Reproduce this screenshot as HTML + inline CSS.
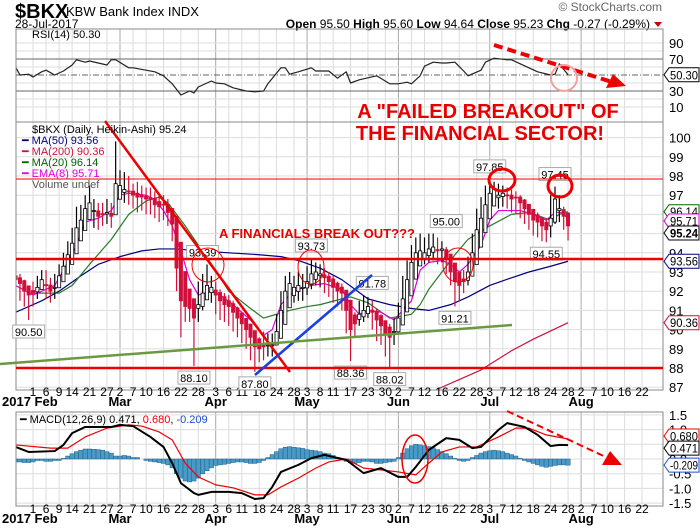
<!DOCTYPE html>
<html><head><meta charset="utf-8"><title>$BKX KBW Bank Index chart</title>
<style>
body{margin:0;background:#fff;width:700px;height:530px;overflow:hidden}
svg{display:block;font-family:"Liberation Sans",sans-serif}
.ax{font-size:11px;fill:#222}
.lg{font-size:11px}
.bx{fill:#fff;stroke:#aaa}
</style></head><body>
<svg id="chart" width="700" height="530" viewBox="0 0 700 530" xmlns="http://www.w3.org/2000/svg">
<defs>
<clipPath id="cpMain"><rect x="16" y="122" width="647" height="268"/></clipPath>
<clipPath id="cpRsi"><rect x="16" y="29" width="647" height="93"/></clipPath>
<clipPath id="cpMacd"><rect x="16" y="412" width="647" height="94"/></clipPath>
</defs>
<text x="15" y="18" font-size="20" font-weight="bold">$BKX</text>
<text x="66" y="16" font-size="13">KBW Bank Index  INDX</text>
<text x="15" y="28" font-size="12">28-Jul-2017</text>
<text x="662" y="11" font-size="12" fill="#666" text-anchor="end">© StockCharts.com</text>
<text x="650" y="28" font-size="12" text-anchor="end"><tspan font-weight="bold">Open</tspan> 95.50 <tspan font-weight="bold">High</tspan> 95.60 <tspan font-weight="bold">Low</tspan> 94.64 <tspan font-weight="bold">Close</tspan> 95.23 <tspan font-weight="bold">Chg</tspan> -0.27 (-0.29%)</text>
<polygon points="654,22 662,22 658,27" fill="#c00"/>
<g id="grid"></g>
<g id="rsiG" clip-path="url(#cpRsi)"></g>
<g id="mainG" clip-path="url(#cpMain)"></g>
<g id="macdG" clip-path="url(#cpMacd)"></g>
<g id="panels" fill="none" stroke="#888">
<rect x="16" y="29" width="647" height="93"/>
<rect x="16" y="122" width="647" height="268"/>
<rect x="16" y="412" width="647" height="94"/>
</g>
<g id="axes"></g>
<g id="annot"></g>
<text x="32" y="38" class="lg">RSI(14) 50.30</text>
<g class="lg">
<text x="32" y="133" fill="#000">$BKX (Daily, Heikin-Ashi) 95.24</text>
<text x="22" y="144" fill="#000080">━ MA(50) 93.56</text>
<text x="22" y="155" fill="#d0103a">━ MA(200) 90.36</text>
<text x="22" y="166" fill="#006400">━ MA(20) 96.14</text>
<text x="22" y="177" fill="#e000e0">━ EMA(8) 95.71</text>
<text x="32" y="188" fill="#555">Volume undef</text>
</g>
<text x="20" y="423" class="lg"><tspan>━ MACD(12,26,9) 0.471, </tspan><tspan fill="#e00">0.680</tspan><tspan>, </tspan><tspan fill="#1a4ed8">-0.209</tspan></text>
<text x="488" y="118" font-size="20" font-weight="bold" fill="#e60000" text-anchor="middle">A "FAILED BREAKOUT" OF</text>
<text x="480" y="140" font-size="20" font-weight="bold" fill="#e60000" text-anchor="middle">THE FINANCIAL SECTOR!</text>
<text x="219" y="238" font-size="13" font-weight="bold" fill="#e60000">A FINANCIALS BREAK OUT???</text>
</svg>
<script>
const NS='http://www.w3.org/2000/svg';
// ---- data ----
const startIdx=-4;
const haClose=[92.6,92.4,92.0,91.8, 91.9,92.2,92.6, 92.3,92.0,92.2,92.8,93.3, 93.9,94.5,95.3,95.7,96.3, 96.6,96.2,95.9,96.0, 96.1,95.9, 97.6,97.5,97.3, 97.2,97.0,96.9,96.9,96.8, 96.8,96.5,96.4,96.5,96.1, 95.5,93.2,91.5,91.2,91.1, 90.6,91.3,91.9,92.3,92.2, 91.8,91.5,91.3,91.2,90.9, 90.6,90.3,90.0,89.6, 89.1,89.0,89.1,89.2,89.2, 89.9,91.0,92.0,92.4,92.2, 92.3,92.2,92.5,92.9,93.0, 92.9,92.7,92.5,92.2,92.0, 91.9,91.0,90.0,90.3,90.8, 91.0,91.2,90.9,90.5,90.2, 89.8,89.6,89.9,90.6, 91.6,92.6,93.5,94.0,94.1, 94.0,94.2,94.3,94.1,94.2, 93.7,93.0,92.5,92.3,92.5, 93.0,94.0,95.2,95.8,96.5, 97.1,97.3,97.0,97.1, 97.0,96.8,96.9,96.6,96.3, 96.0,95.7,95.6,95.4,95.2, 95.8,96.8,96.3,95.9,95.4];
const haHigh=[93.0,92.9,92.6,92.3, 92.5,92.8,93.1, 93.1,92.7,92.9,93.4,94.0, 94.6,95.3,96.4,96.5,97.0, 97.5,96.8,96.6,96.6, 96.8,96.6, 99.8,98.3,98.2, 98.0,97.6,97.7,97.5,97.4, 97.4,97.2,97.0,97.0,96.8, 96.2,95.6,92.5,91.8,91.8, 91.5,92.5,92.9,93.39,92.8, 92.5,92.1,91.9,91.8,91.5, 91.2,90.9,90.6,90.3, 89.6,89.6,89.9,89.8,89.8, 90.8,92.0,92.8,93.0,92.8, 93.0,92.9,93.3,93.73,93.5, 93.4,93.2,93.0,92.8,92.5, 92.4,91.8,90.8,90.9,91.5, 91.78,91.7,91.5,91.1,90.8, 90.4,90.3,90.6,91.4, 92.8,93.6,94.4,94.8,95.0, 94.8,95.0,95.0,94.8,94.6, 94.3,93.6,93.1,92.9,93.1, 93.8,95.0,96.3,96.9,97.5, 97.85,97.7,97.6,97.5, 97.4,97.3,97.2,97.0,96.8, 96.5,96.2,96.1,95.9,95.8, 97.0,97.45,97.0,96.4,96.0];
const haLow=[91.6,91.5,91.2,90.5, 91.2,91.6,92.1, 91.6,91.4,91.6,92.2,92.6, 93.3,94.0,94.8,95.2,95.8, 95.8,95.3,95.2,95.4, 95.5,95.3, 96.0,96.8,96.6, 96.5,96.3,96.1,96.2,96.0, 96.0,95.8,95.6,95.7,95.4, 94.6,92.0,89.6,90.4,90.4, 88.1,90.4,91.0,91.6,91.4, 90.8,90.5,90.4,90.2,89.9, 89.6,89.3,89.0,88.4, 87.8,88.3,88.4,88.6,88.6, 89.3,90.2,91.2,91.6,91.4, 91.5,91.5,91.8,92.1,92.3, 92.2,91.9,91.7,91.4,91.2, 91.0,89.8,88.36,89.6,90.2, 90.4,90.6,90.0,89.4,89.2, 88.6,88.02,89.2,89.8, 90.6,91.6,92.6,93.2,93.4, 93.4,93.5,93.6,93.4,93.5, 92.9,92.3,91.21,91.5,91.9, 92.3,93.1,94.3,95.0,95.8, 96.4,96.6,96.3,96.4, 96.3,96.1,96.0,95.8,95.5, 95.2,94.9,94.8,94.6,94.55, 94.8,95.5,95.6,95.2,94.64];
const ma50Idx=[-4,2,6,11,15,20,25,29,33,38,45,52,57,61,66,71,77,82,87,91,96,100,105,110,114,119,123];
const ma50Val=[90.9,91.5,92.0,92.8,93.4,93.8,94.1,94.2,94.2,94.1,94.0,93.9,93.8,93.6,93.2,92.6,91.6,91.3,91.1,91.0,91.3,91.7,92.3,92.7,93.0,93.3,93.56];
const ma20Idx=[-1,2,6,9,13,18,22,26,29,31,35,38,42,45,50,53,56,59,63,66,71,73,77,82,87,89,91,94,97,100,105,110,114,119,121,123];
const ma20Val=[91.9,91.9,91.9,92.3,93.4,94.7,96.0,96.7,96.9,96.6,95.4,94.4,93.1,92.0,91.1,90.6,90.8,91.0,91.2,91.3,91.6,91.7,91.4,90.6,90.8,91.3,92.1,93.0,93.9,94.7,95.4,96.0,96.1,95.7,96.0,96.14];
const ema8Idx=[-4,0,5,7,10,12,15,18,20,22,26,28,30,32,34,36,38,41,43,46,50,53,55,57,59,61,64,67,71,73,75,77,80,83,87,89,91,94,96,98,100,103,105,107,110,112,115,118,120,122,123];
const ema8Val=[92.3,91.8,92.3,93.1,94.4,95.6,95.8,96.2,97.0,97.1,97.0,96.75,96.2,95.4,94.1,92.6,91.8,92.0,91.8,91.3,90.5,89.7,90.0,91.3,91.8,92.1,92.3,92.4,92.1,91.3,90.8,91.0,90.9,90.5,91.5,93.1,93.5,93.6,93.4,93.0,93.4,94.4,95.7,96.2,96.2,96.2,96.0,95.7,96.1,96.1,95.71];
const ma200Idx=[93,98,103,110,115,123];
const ma200Val=[86.9,87.4,87.9,88.9,89.5,90.36];
const rsiIdx=[-4,-3,-1,0,2,3,5,7,9,10,12,13,15,17,18,19,22,23,26,28,30,32,34,36,37,38,41,42,44,46,49,51,53,54,57,58,59,61,64,65,68,70,72,73,75,79,82,84,86,87,89,90,92,94,95,97,99,100,103,104,106,109,110,112,114,116,119,120,121,122,123];
const rsiVal=[60,50,51,47.5,54,56,50,55,62.5,69,66,67.5,65,62.5,69,69,59,59,56,54,49,39,25,30,27.5,35,42.5,40,39,34,30,29,30,39,59,59,51,54,59,55,55,46,54,40,44,49,39,39,41,39,49,61,66,65,65,66,55,49,56,66,71,69,69,64,59,54,50,51,64,57,50.3];
const macdIdx=[-4,-1,5,7,9,12,15,18,20,23,27,30,32,34,37,38,41,45,48,51,53,55,57,61,64,67,69,72,73,76,80,84,86,88,91,95,98,101,103,107,109,113,116,119,121,123];
const macdVal=[0.41,0.24,0.27,0.48,0.88,1.09,1.09,1.09,1.16,1.12,0.75,0.41,-0.14,-0.82,-1.16,-1.22,-1.12,-1.12,-1.16,-1.36,-1.33,-0.95,-0.44,-0.2,0.03,0.14,0.07,-0.03,-0.14,-0.48,-0.31,-0.61,-0.61,-0.27,0.31,0.71,0.65,0.37,0.41,0.99,1.22,1.09,0.82,0.44,0.48,0.47];
const sigIdx=[-4,4,8,12,17,22,25,29,32,35,38,42,46,51,54,57,61,65,68,72,76,80,84,88,91,94,98,102,107,111,114,118,123];
const sigVal=[0.48,0.37,0.37,0.75,1.05,1.16,1.12,0.92,0.65,-0.14,-0.61,-0.88,-0.98,-1.22,-1.22,-0.95,-0.65,-0.31,-0.1,0.0,-0.31,-0.37,-0.44,-0.54,-0.14,0.24,0.41,0.41,0.75,1.05,1.05,0.82,0.68];
const histVal=[-0.1,-0.1,-0.12,-0.12, -0.1,-0.05,-0.05, -0.08,-0.08,-0.05,-0.05,0.02, 0.1,0.18,0.25,0.3,0.34, 0.34,0.33,0.32,0.3, 0.25,0.2, 0.1,0.1,0.12, 0.1,0.05,0.05,0.0,-0.05, -0.08,-0.1,-0.12,-0.15,-0.2, -0.3,-0.5,-0.65,-0.75,-0.78, -0.75,-0.65,-0.5,-0.4,-0.3, -0.22,-0.2,-0.18,-0.15,-0.12, -0.1,-0.1,-0.12,-0.15, -0.15,-0.12,-0.05,0.05,0.15, 0.25,0.35,0.4,0.42,0.4, 0.38,0.36,0.32,0.3,0.28, 0.25,0.2,0.18,0.12,0.05, -0.02,-0.08,-0.12,-0.15,-0.12, -0.08,-0.08,-0.1,-0.15,-0.15, -0.12,-0.1,-0.08,0.05, 0.2,0.35,0.45,0.5,0.48, 0.45,0.42,0.38,0.32,0.25, 0.18,0.1,0.02,-0.05,-0.08, -0.05,0.05,0.12,0.2,0.25, 0.28,0.3,0.28,0.25, 0.2,0.15,0.1,0.02,-0.05, -0.1,-0.15,-0.2,-0.25,-0.28, -0.25,-0.22,-0.2,-0.2,-0.21];
const tickIdx=[0,3,6,9,13,17,20,23,26,30,34,38,42,45,48,52,56,60,63,66,69,73,77,81,84,87,90,94,98,102,105,108,111,115,119,123,126,129,132,136,140];
const tickLbl=['1','6','9','14','21','27','2','7','10','16','22','28','3','6','11','18','24','28','3','8','11','17','23','30','2','7','12','16','22','28','3','7','12','18','24','28','2','7','10','16','22'];
const monthIdx=[20,42,63,84,105,126];
const monthLbl=['Mar','Apr','May','Jun','Jul','Aug'];
const priceTicks=[100,99,98,97,94,93,92,91,90,89,88,87];
const rsiTicks=[90,70,30,10];
const macdTicks=[1.5,1.0,0.0,-0.5,-1.0,-1.5];
const priceNotes=[[90.50,-1,'below'],[88.10,37,'below'],[87.80,51,'below'],[88.36,73,'below'],[88.02,82,'below'],[93.39,39,'above'],[93.73,64,'above'],[91.78,78,'above'],[91.21,97,'below'],[95.00,95,'above'],[97.85,105,'above'],[97.45,120,'above'],[94.55,118,'below']];
// ---- scales ----
const X=i=>33+i*4.35;
const YP=p=>176+(98-p)*19.2;
const YR=v=>75-(v-50)*0.8;
const YM=v=>459-v*29.4;
function mk(t,parent){const e=document.createElementNS(NS,t);parent.appendChild(e);return e;}
function attrs(e,o){for(const k in o)e.setAttribute(k,o[k]);return e;}
const grid=document.getElementById('grid'),mainG=document.getElementById('mainG'),rsiG=document.getElementById('rsiG'),macdG=document.getElementById('macdG'),axes=document.getElementById('axes'),annot=document.getElementById('annot');
// grid
tickIdx.forEach(i=>{[[29,122],[122,390],[412,506]].forEach(([a,b])=>{const l=mk('line',grid);


attrs(l,{x1:X(i),x2:X(i),y1:a,y2:b,stroke:monthIdx.includes(i)?'#aaa':'#ddd'});});});
for(let p=87;p<=100;p++){const l=mk('line',grid);


attrs(l,{x1:16,x2:663,y1:YP(p),y2:YP(p),stroke:'#ddd'});}
[90,80,60,40,20,10].forEach(v=>{const l=mk('line',grid);


attrs(l,{x1:16,x2:663,y1:YR(v),y2:YR(v),stroke:'#ddd'});});
[70,30].forEach(v=>{const l=mk('line',grid);


attrs(l,{x1:16,x2:663,y1:YR(v),y2:YR(v),stroke:'#666'});});
{const l=mk('line',grid);


attrs(l,{x1:16,x2:663,y1:YR(50),y2:YR(50),stroke:'#666','stroke-dasharray':'6,2,1,2'});}
[1.5,1,0.5,0,-0.5,-1,-1.5].forEach(v=>{const l=mk('line',grid);


attrs(l,{x1:16,x2:663,y1:YM(v),y2:YM(v),stroke:'#ddd'});});
// axes labels
[[396,406],[513,523]].forEach(([yd,ym])=>{
tickIdx.forEach((i,k)=>{const t=mk('text',axes);


attrs(t,{x:X(i),y:yd,'text-anchor':'middle','font-size':'12'});t.textContent=tickLbl[k];});
monthIdx.forEach((i,k)=>{const t=mk('text',axes);


attrs(t,{x:X(i),y:ym,'text-anchor':'middle','font-size':'13','font-weight':'bold'});t.textContent=monthLbl[k];});
const t=mk('text',axes);


attrs(t,{x:2,y:ym,'font-size':'13','font-weight':'bold'});t.textContent='2017 Feb';});
priceTicks.forEach(p=>{const t=mk('text',axes);


attrs(t,{x:669,y:YP(p)+5,'font-size':'13'});t.textContent=p;});
rsiTicks.forEach(v=>{const t=mk('text',axes);


attrs(t,{x:669,y:YR(v)+5,'font-size':'13'});t.textContent=v;});
macdTicks.forEach(v=>{const t=mk('text',axes);


attrs(t,{x:669,y:YM(v)+5,'font-size':'13'});t.textContent=v.toFixed(1);});
function tag(y,txt,col,bold){const g=mk('g',axes);


const p=mk('path',g);attrs(p,{d:`M664,${y} L669,${y-7} L699,${y-7} L699,${y+7} L669,${y+7} Z`,fill:'#fff',stroke:col});
const t=mk('text',g);attrs(t,{x:670,y:y+4.5,'font-size':'12',fill:'#000','font-weight':bold?'bold':'normal',textLength:'28',lengthAdjust:'spacingAndGlyphs'});t.textContent=txt;}
tag(YR(50.3),'50.30','#000');
tag(YP(96.14),'96.14','#006400');tag(YP(95.71)+1,'95.71','#e000e0');tag(YP(95.24)+4,'95.24','#000',true);
tag(YP(93.56),'93.56','#000080');tag(YP(90.36),'90.36','#d0103a');
tag(YM(0.68)-3,'0.680','#e00');tag(YM(0.471)+3,'0.471','#000');tag(YM(-0.209),'-0.209','#1a4ed8');
// lines
function poly(idx,val,Y,parent,col,w,name){const pts=idx.map((i,k)=>X(i)+','+Y(val[k])).join(' ');
const l=mk('polyline',parent);


attrs(l,{points:pts,fill:'none',stroke:col,'stroke-width':w,'stroke-linejoin':'round'});}
poly(rsiIdx,rsiVal,YR,rsiG,'#222',1.2,'rsi-line');
poly(ma50Idx,ma50Val,YP,mainG,'#000080',1.2,'ma50-line');
poly(ma200Idx,ma200Val,YP,mainG,'#d0103a',1.2,'ma200-line');
poly(ma20Idx,ma20Val,YP,mainG,'#2a7a2a',1.2,'ma20-line');
poly(ema8Idx,ema8Val,YP,mainG,'#e000e0',1.2,'ema8-line');
// candles (Heikin-Ashi open from previous HA open/close)
let ho=92.8;
haClose.forEach((c,k)=>{const i=startIdx+k;if(k>0)ho=(ho+haClose[k-1])/2;
const o=ho,h=haHigh[k],lo=haLow[k];const up=c>=o;const col=up?'#000':'#d0103a';
const w=mk('line',mainG);


attrs(w,{x1:X(i),x2:X(i),y1:YP(h),y2:YP(lo),stroke:col,'stroke-width':1.2});
const top=YP(Math.max(o,c)),bot=YP(Math.min(o,c));
const b=mk('rect',mainG);


attrs(b,{x:X(i)-1.6,y:top,width:3.2,height:Math.max(1,bot-top),fill:up?'#fff':'#d0103a',stroke:col,'stroke-width':0.8});});
// macd
histVal.forEach((v,k)=>{const i=startIdx+k;const r=mk('rect',macdG);


attrs(r,{x:X(i)-2.2,y:Math.min(YM(v),YM(0)),width:4.35,height:Math.abs(YM(v)-YM(0)),fill:'#4a9ac7',stroke:'#1f5f8a','stroke-width':0.5});});
poly(sigIdx,sigVal,YM,macdG,'#e00',1.2,'macd-signal-line');
poly(macdIdx,macdVal,YM,macdG,'#000',2,'macd-line');
// price notes
priceNotes.forEach(([p,i,pos])=>{const g=mk('g',annot);


const y=pos==='above'?YP(p)-12:YP(p)+12;const r=mk('rect',g);attrs(r,{x:X(i)-16,y:y-7,width:32,height:13,class:'bx'});
const t=mk('text',g);attrs(t,{x:X(i),y:y+4,'text-anchor':'middle','font-size':'11',fill:'#000'});t.textContent=p.toFixed(2);});
// annotations
function ln(n,a,col,w,dash){const l=mk('line',annot);


attrs(l,{x1:a[0],y1:a[1],x2:a[2],y2:a[3],stroke:col,'stroke-width':w});if(dash)l.setAttribute('stroke-dasharray',dash);}
ln('resistance-line',[16,YP(93.68),663,YP(93.68)],'#e00',2.5);
ln('support-line',[16,YP(88),663,YP(88)],'#e00',2.5);
ln('top-line',[16,179,663,179],'#e00',1);
ln('down-trendline',[105,121,290,372],'#e00',2.5);
ln('up-trendline',[255,375,372,275],'#1a3fe0',2.5);
ln('green-trendline',[0,364,512,325],'#6a9a40',2.5);
ln('rsi-down-arrow',[494,45,612,82],'#e00',4,'9,5');
ln('macd-down-arrow',[507,411,610,459],'#e00',2,'7,4');
function tri(n,pts){const p=mk('polygon',annot);


attrs(p,{points:pts,fill:'#e00'});}
tri('rsi-arrowhead','626,86 606,88 613,74');
tri('macd-arrowhead','622,465 602,465 610,451');
function circ(n,cx,cy,rx,ry,col,w){const e=mk('ellipse',annot);


attrs(e,{cx,cy,rx,ry,fill:'none',stroke:col,'stroke-width':w});}
circ('circle-93-39',208,265,16,17,'#e00',1);
circ('circle-93-73',311,267,13,17,'#e00',1);
circ('circle-june',458,265,15,17,'#e00',1);
circ('circle-97-85',502,180,13,11,'#e00',3);
circ('circle-97-45',560,186,12,11,'#e00',3);
circ('circle-rsi',564,78,13,13,'#f4a0a0',2);
circ('circle-macd',415,459,13,24,'#e00',1.5);
</script>
</body></html>
